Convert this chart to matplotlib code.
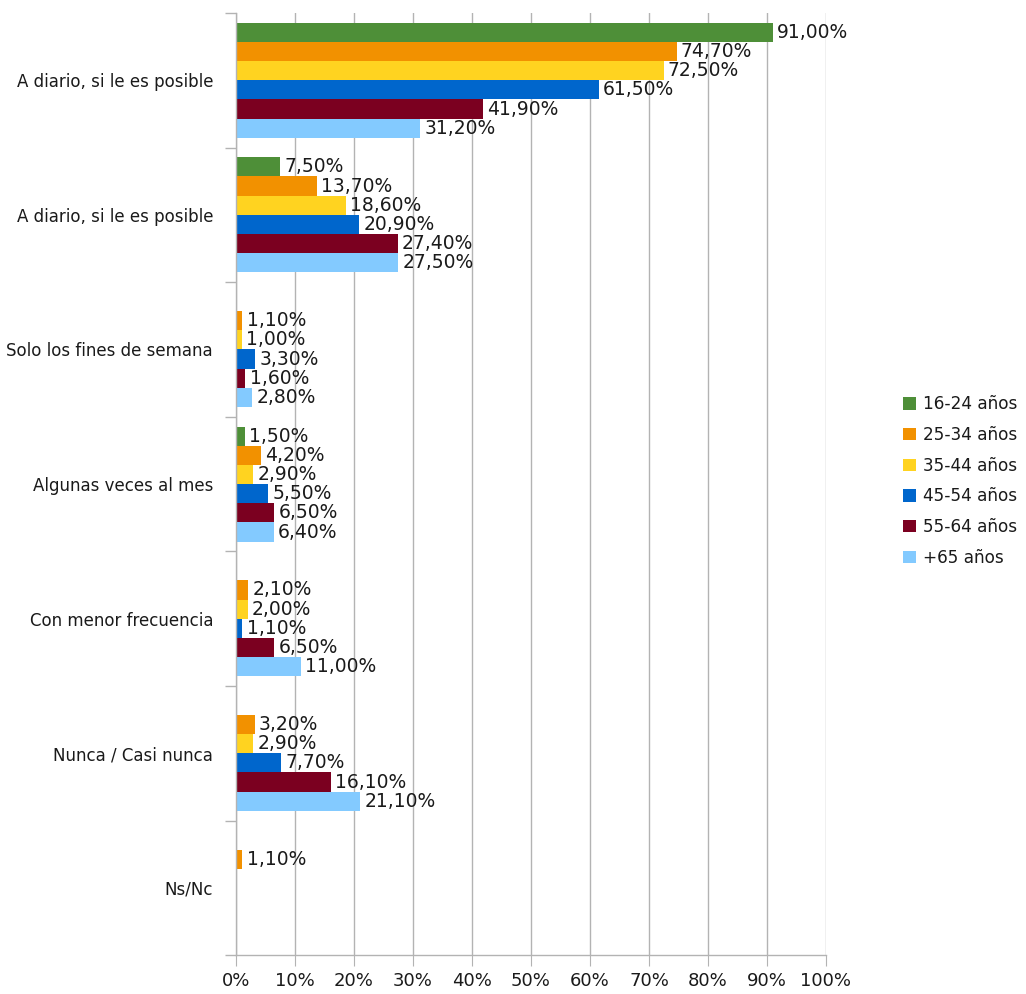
import matplotlib
matplotlib.use('Agg')
import matplotlib.pyplot as plt
from matplotlib.ticker import FuncFormatter, FixedLocator
import numpy as np

plt.rcParams['font.family'] = ['DejaVu Sans']

# --- Data ---
categories = ['A diario, si le es posible', 'A diario, si le es posible',
              'Solo los fines de semana', 'Algunas veces al mes',
              'Con menor frecuencia', 'Nunca / Casi nunca', 'Ns/Nc']
series_names = ['16-24 años', '25-34 años', '35-44 años', '45-54 años',
                '55-64 años', '+65 años']
v_16_24 = [91.0, 7.5, 0, 1.5, 0, 0, 0]
v_25_34 = [74.7, 13.7, 1.1, 4.2, 2.1, 3.2, 1.1]
v_35_44 = [72.5, 18.6, 1.0, 2.9, 2.0, 2.9, 0]
v_45_54 = [61.5, 20.9, 3.3, 5.5, 1.1, 7.7, 0]
v_55_64 = [41.9, 27.4, 1.6, 6.5, 6.5, 16.1, 0]
v_65 = [31.2, 27.5, 2.8, 6.4, 11.0, 21.1, 0]
series_values = [v_16_24, v_25_34, v_35_44, v_45_54, v_55_64, v_65]

COLORS = ['#4e8f38', '#f29100', '#ffd320', '#0066cc', '#7b0020', '#83caff']
TEXT = '#1a1a1a'
GRID = '#b3b3b3'

fig = plt.figure(figsize=(10.26, 9.94), dpi=100)
ax = fig.add_axes([0.230, 0.039, 0.575, 0.948])

n_cat = len(categories)
n_ser = len(series_names)
group = 0.855
bar_h = group / n_ser
centers = np.arange(n_cat)

for i, (name, vals, col) in enumerate(zip(series_names, series_values, COLORS)):
    offs = -group / 2 + bar_h * (i + 0.5)
    y = centers + offs
    ax.barh(y, vals, height=bar_h, color=col, label=name, zorder=2)
    for yy, v in zip(y, vals):
        if v > 0:
            ax.text(v + 0.7, yy, f'{v:.2f}%'.replace('.', ','), va='center',
                    ha='left', fontsize=13.5, color=TEXT, zorder=3)

ax.set_ylim(n_cat - 0.5, -0.5)
ax.set_xlim(0, 100)
ax.set_yticks(centers)
ax.set_yticklabels(categories, fontsize=12, color=TEXT)
ax.yaxis.set_minor_locator(FixedLocator(np.arange(n_cat + 1) - 0.5))
ax.tick_params(axis='y', which='major', length=0, pad=16.5)
ax.tick_params(axis='y', which='minor', length=8, color=GRID, width=1)
ax.set_xticks(np.arange(0, 101, 10))
ax.xaxis.set_major_formatter(FuncFormatter(lambda x, p: f'{x:.0f}%'))
ax.tick_params(axis='x', length=8, color=GRID, labelsize=13, labelcolor=TEXT, pad=4)
ax.grid(axis='x', color=GRID, linewidth=1, zorder=0)
ax.set_axisbelow(True)

for s in ['top', 'right']:
    ax.spines[s].set_visible(False)
for s in ['left', 'bottom']:
    ax.spines[s].set_color(GRID)
    ax.spines[s].set_linewidth(1)

leg = fig.legend(loc='center left', bbox_to_anchor=(0.880, 0.516), frameon=False,
                 fontsize=12.2, handlelength=0.75, handleheight=0.75,
                 labelspacing=0.75, handletextpad=0.45, borderpad=0, borderaxespad=0)
for t in leg.get_texts():
    t.set_color(TEXT)

fig.savefig('out.png', dpi=100, facecolor='white')
